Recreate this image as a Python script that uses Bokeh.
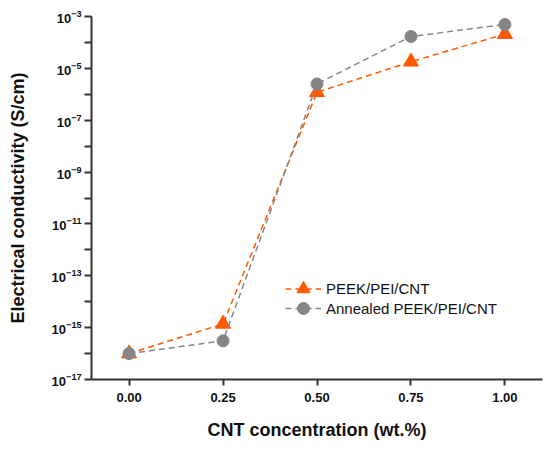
from bokeh.plotting import figure
from bokeh.models import FixedTicker, CustomJSTickFormatter, LogTickFormatter, Range1d, Legend, LegendItem
from bokeh.embed import file_html
from bokeh.resources import INLINE

# data
conc = [0.0, 0.25, 0.5, 0.75, 1.0]
peek = [1.0e-16, 1.4e-15, 1.2e-6, 1.8e-5, 2.1e-4]
annealed = [1.0e-16, 3.1e-16, 2.5e-6, 1.7e-4, 4.9e-4]
x_ticks = [0.0, 0.25, 0.5, 0.75, 1.0]
y_major = [10.0 ** k for k in range(-17, -2, 2)]
y_minor = [10.0 ** k for k in range(-16, -3, 2)]

ORANGE = "#ff5a00"
GRAY = "#858585"
AXC = "#333333"
FONT = "Liberation Sans"

p = figure(width=545, height=445, y_axis_type="log",
           x_range=Range1d(-0.1, 1.1), y_range=Range1d(1e-17, 1e-3),
           output_backend="svg", toolbar_location=None,
           min_border_left=91, min_border_right=3, min_border_top=16, min_border_bottom=66)
p.outline_line_color = None
p.grid.visible = False

l1 = p.line(conc, peek, line_color=ORANGE, line_width=1.5, line_dash="6 4")
m1 = p.scatter(conc, peek, marker="triangle", size=15, fill_color=ORANGE, line_color=ORANGE)
l2 = p.line(conc, annealed, line_color=GRAY, line_width=1.5, line_dash="6 4")
m2 = p.scatter(conc, annealed, marker="circle", size=12, fill_color=GRAY, line_color=GRAY)

def make_legend(label, rends, loc, gh):
    return Legend(items=[LegendItem(label=label, renderers=rends)],
                  location=loc, border_line_color=None, background_fill_alpha=0,
                  label_text_font=FONT, label_text_font_size="15px", label_text_color="#111111",
                  glyph_width=36, glyph_height=gh, label_height=gh, spacing=0, padding=0, margin=0,
                  label_standoff=5)

p.add_layout(make_legend("PEEK/PEI/CNT", [l1, m1], (194, 74), 33), "center")
p.add_layout(make_legend("Annealed PEEK/PEI/CNT", [l2, m2], (194, 56), 30), "center")

for ax in (p.xaxis[0], p.yaxis[0]):
    ax.axis_line_color = AXC
    ax.axis_line_width = 2
    ax.major_tick_line_color = AXC
    ax.major_tick_line_width = 2
    ax.minor_tick_line_color = AXC
    ax.minor_tick_line_width = 2
    ax.major_tick_in = 0
    ax.minor_tick_in = 0
    ax.major_label_text_font = FONT
    ax.major_label_text_font_style = "bold"
    ax.major_label_text_font_size = "13px"
    ax.major_label_text_color = "#111111"
    ax.axis_label_text_font = FONT
    ax.axis_label_text_font_style = "bold"
    ax.axis_label_text_font_size = "18px"
    ax.axis_label_text_color = "#111111"

p.xaxis.ticker = FixedTicker(ticks=x_ticks)
p.xaxis.major_tick_out = 6
p.xaxis.minor_tick_out = 0
p.xaxis.major_label_standoff = 7
p.xaxis.axis_label = "CNT concentration (wt.%)"
p.xaxis.axis_label_standoff = 15
p.xaxis.formatter = CustomJSTickFormatter(code="return tick.toFixed(2);")

p.yaxis.ticker = FixedTicker(ticks=y_major, minor_ticks=y_minor)
p.yaxis.major_tick_out = 7
p.yaxis.minor_tick_out = 7
p.yaxis.major_label_standoff = 3
p.yaxis.axis_label = "Electrical conductivity (S/cm)"
p.yaxis.axis_label_standoff = 21
p.yaxis.formatter = LogTickFormatter()

open("out.html", "w").write(file_html(p, INLINE))
